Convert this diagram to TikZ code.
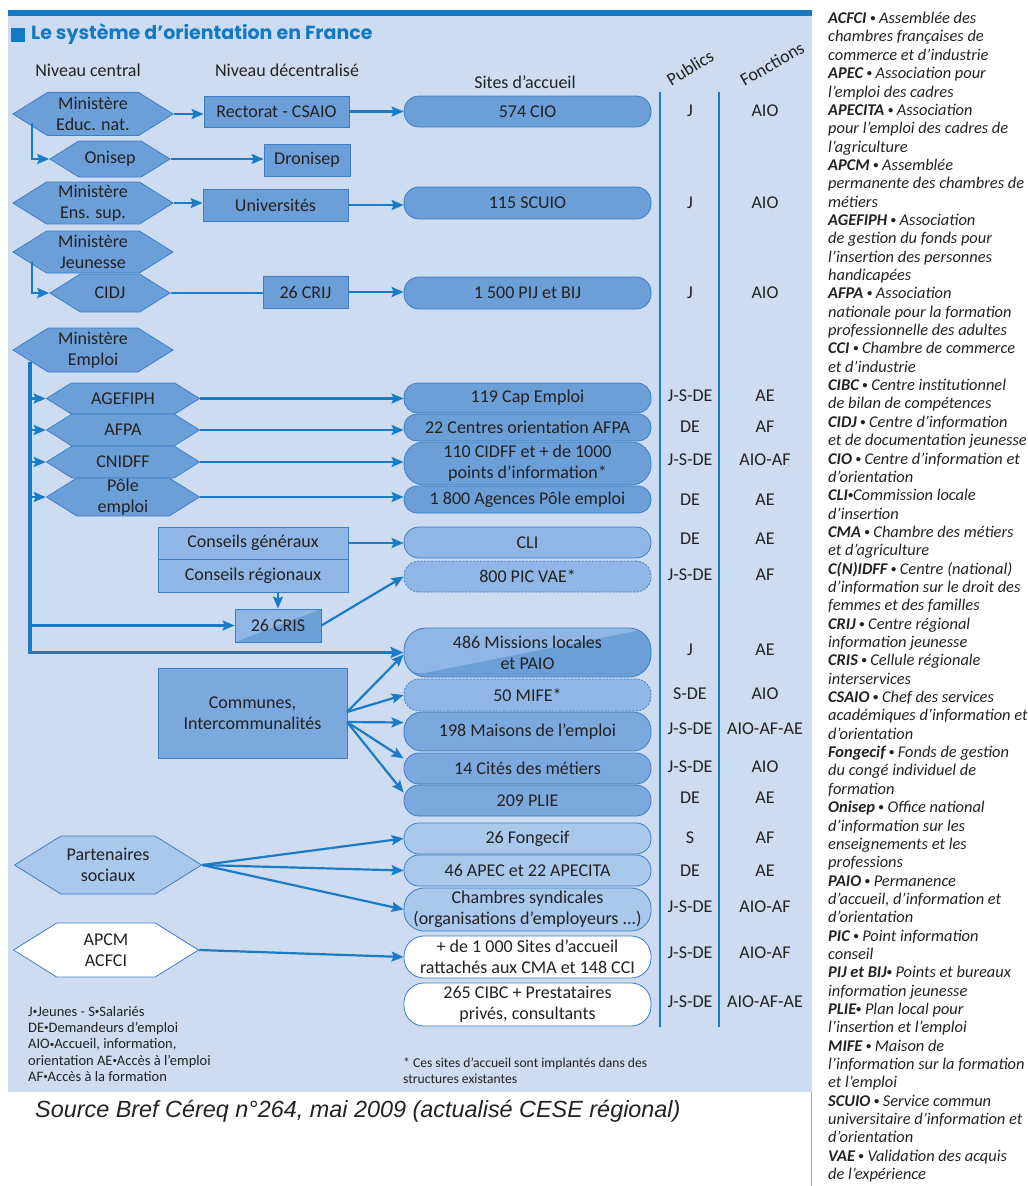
\documentclass[tikz,border=0pt]{standalone}
\usepackage{fontspec}
\setmainfont{Carlito}
\newfontfamily\srcfont{Liberation Sans}
\newfontfamily\titlefont{Poppins}
\usetikzlibrary{shapes.symbols,arrows.meta,calc}
\definecolor{bgc}{HTML}{CDDCF1}
\definecolor{barc}{HTML}{1479C4}
\definecolor{medc}{HTML}{6C9FD8}
\definecolor{medlc}{HTML}{7BA9DD}
\definecolor{lightc}{HTML}{8FB6E4}
\definecolor{paleC}{HTML}{AAC7EC}
\definecolor{bordc}{HTML}{3D7DC6}
\definecolor{arrc}{HTML}{1A7CC6}
\definecolor{txtc}{HTML}{222222}
\newcommand{\bul}{\raisebox{0.12em}{\scalebox{0.62}{•}}}
\begin{document}
\begin{tikzpicture}[x=1pt,y=-1pt,
 every node/.style={text=txtc},
 mfont/.style={font=\fontsize{18}{21}\selectfont},
 hex/.style={signal, signal to=west and east, signal pointer angle=64, draw=bordc, fill=medc, line width=0.8pt, inner xsep=2pt, inner ysep=0pt, align=center, mfont},
 boxn/.style={rectangle, draw=bordc, fill=medc, line width=0.8pt, inner sep=1pt, align=center, mfont},
 site/.style={rectangle, rounded corners=15pt, draw=bordc, fill=medc, line width=0.8pt, minimum width=247pt, inner sep=1pt, align=center, mfont},
 dashedbox/.style={dash pattern=on 2pt off 1.5pt},
 pubt/.style={mfont, inner sep=0pt},
 arr/.style={draw=arrc, line width=2.2pt, -{Stealth[length=12pt,width=10pt,inset=2pt]}},
 conn/.style={draw=arrc, line width=2.2pt},
 trunk/.style={draw=arrc, line width=3.2pt, -{Stealth[length=13pt,width=11pt,inset=2pt]}},
 vline/.style={draw=arrc, line width=1.8pt},
 split/.style={path picture={\fill[lightc] (path picture bounding box.south west) -- (path picture bounding box.north east) -- (path picture bounding box.north west) -- cycle;}}
]
\useasboundingbox (0,0) rectangle (1028,1186);
% panel
\fill[bgc] (8,10) rectangle (812,1092);
\fill[barc] (8,10) rectangle (812,16);
\draw[gray!70, line width=0.8pt] (811,1092) -- (811,1186);
% title
\node[fill=barc, minimum size=14pt, inner sep=0pt] (sq) at (17.5,35) {};
\node[anchor=west, inner sep=0pt, text=barc, font=\titlefont\bfseries\fontsize{19}{22}\selectfont] (title) at (31,34) {Le système d’orientation en France};
% headers
\node[mfont] (h1) at (88,70) {Niveau central};
\node[mfont] (h2) at (287,70) {Niveau décentralisé};
\node[mfont] (h3) at (525,82) {Sites d’accueil};
\node[mfont, rotate=31] (h4) at (690,68) {Publics};
\node[mfont, rotate=30] (h5) at (772,64) {Fonctions};
% column lines
\coordinate (v1t) at (660,92); \coordinate (v1b) at (660,1027);
\coordinate (v2t) at (719,92); \coordinate (v2b) at (719,1027);
\draw[vline] (v1t) -- (v1b);
\draw[vline] (v2t) -- (v2b);
% central level hexagons
\node[hex, minimum width=160pt, minimum height=43pt] (edu) at (93,114) {Ministère\\Educ. nat.};
\node[hex, minimum width=120pt, minimum height=36pt] (onisep) at (110,159) {Onisep};
\node[hex, minimum width=160pt, minimum height=42pt] (enssup) at (93,203) {Ministère\\Ens. sup.};
\node[hex, minimum width=160pt, minimum height=42pt] (jeun) at (93,252) {Ministère\\Jeunesse};
\node[hex, minimum width=120pt, minimum height=38pt] (cidj) at (110,293) {CIDJ};
\node[hex, minimum width=160pt, minimum height=44pt] (emploi) at (93,350) {Ministère\\Emploi};
\node[hex, minimum width=153pt, minimum height=31pt] (agefiph) at (123,398.5) {AGEFIPH};
\node[hex, minimum width=153pt, minimum height=32pt] (afpa) at (123,430) {AFPA};
\node[hex, minimum width=153pt, minimum height=32pt] (cnidff) at (123,462) {CNIDFF};
\node[hex, minimum width=153pt, minimum height=38pt] (pole) at (123,497) {Pôle\\emploi};
\node[hex, fill=paleC, minimum width=187pt, minimum height=58pt] (partners) at (108,865) {Partenaires\\sociaux};
\node[hex, fill=white, minimum width=185pt, minimum height=54pt] (apcm) at (106,950) {APCM\\ACFCI};
% decentralised boxes
\node[boxn, minimum width=145pt, minimum height=31pt] (rect) at (276.5,111.5) {Rectorat - CSAIO};
\node[boxn, minimum width=86pt, minimum height=32pt] (dron) at (307,160) {Dronisep};
\node[boxn, minimum width=145pt, minimum height=32pt] (univ) at (275.5,205) {Universités};
\node[boxn, minimum width=85pt, minimum height=32pt] (crij) at (305.5,292) {26 CRIJ};
\node[boxn, fill=lightc, minimum width=190pt, minimum height=32pt] (cg) at (253,543) {Conseils généraux};
\node[boxn, fill=lightc, minimum width=190pt, minimum height=33pt] (cr) at (253,575.5) {Conseils régionaux};
\node[boxn, split, minimum width=86pt, minimum height=33pt] (cris) at (278,625.5) {26 CRIS};
\node[boxn, fill=medlc, minimum width=189pt, minimum height=90pt] (communes) at (252.5,713) {Communes,\\Intercommunalités};
% sites
\node[site, minimum height=31pt] (cio) at (527.5,111.5) {574 CIO};
\node[site, minimum height=32pt] (scuio) at (527.5,203) {115 SCUIO};
\node[site, minimum height=32pt] (pij) at (527.5,293) {1 500 PIJ et BIJ};
\node[site, minimum height=30pt, rounded corners=14pt] (cap) at (527.5,398) {119 Cap Emploi};
\node[site, minimum height=27pt, rounded corners=13pt] (cafpa) at (527.5,427.5) {22 Centres orientation AFPA};
\node[site, minimum height=43pt, rounded corners=20pt] (cidff) at (527.5,463.5) {110 CIDFF et + de 1000\\points d’information*};
\node[site, minimum height=27pt, rounded corners=13pt] (agences) at (527.5,499.5) {1 800 Agences Pôle emploi};
\node[site, fill=lightc, minimum height=31pt] (cli) at (527.5,542.5) {CLI};
\node[site, fill=lightc, dashedbox, minimum height=31pt] (pic) at (527.5,576.5) {800 PIC VAE*};
\node[site, split, minimum height=49pt, rounded corners=22pt] (missions) at (527.5,652.5) {486 Missions locales\\et PAIO};
\node[site, fill=lightc, dashedbox, minimum height=32pt] (mife) at (527.5,695) {50 MIFE*};
\node[site, fill=medlc, minimum height=39pt, rounded corners=18pt] (maisons) at (527.5,731.5) {198 Maisons de l’emploi};
\node[site, fill=medlc, minimum height=31pt] (cites) at (527.5,768.5) {14 Cités des métiers};
\node[site, fill=medlc, minimum height=31pt] (plie) at (527.5,800.5) {209 PLIE};
\node[site, fill=paleC, minimum height=31pt] (fongecif) at (527.5,838.5) {26 Fongecif};
\node[site, fill=paleC, minimum height=31pt] (apec) at (527.5,870.5) {46 APEC et 22 APECITA};
\node[site, fill=paleC, minimum height=43pt, rounded corners=20pt] (chambres) at (527.5,909.5) {Chambres syndicales\\(organisations d’employeurs ...)};
\node[site, fill=white, minimum height=42pt, rounded corners=20pt] (plus) at (527.5,957) {+ de 1 000 Sites d’accueil\\rattachés aux CMA et 148 CCI};
\node[site, fill=white, minimum height=43pt, rounded corners=20pt] (cibc) at (527.5,1004.5) {265 CIBC + Prestataires\\privés, consultants};
% publics / fonctions
\foreach \yy/\pp/\ff in {111/J/AIO, 203/J/AIO, 293/J/AIO, 396/J-S-DE/AE, 427/DE/AF, 460/J-S-DE/AIO-AF, 500/DE/AE, 539/DE/AE, 575/J-S-DE/AF, 650/J/AE, 694/S-DE/AIO, 729/J-S-DE/AIO-AF-AE, 767/J-S-DE/AIO, 798/DE/AE, 838/S/AF, 871/DE/AE, 907/J-S-DE/AIO-AF, 953/J-S-DE/AIO-AF, 1002/J-S-DE/AIO-AF-AE}{
  \node[pubt] (pub\yy) at (690,\yy) {\pp};
  \node[pubt] (fon\yy) at (765,\yy) {\ff};
}
% connectors
\draw[arr] (edu.east) -- (edu.east -| rect.west);
\draw[arr] (rect.east) -- (rect.east -| cio.west);
\coordinate (b1) at (32,123);
\draw[arr] (b1) |- (onisep.west);
\draw[arr] (onisep.east) -- (onisep.east -| dron.west);
\draw[arr] (enssup.east) -- (enssup.east -| univ.west);
\draw[arr] (univ.east) -- (univ.east -| scuio.west);
\coordinate (b2) at (32,262);
\draw[arr] (b2) |- (cidj.west);
\draw[conn] (cidj.east) -- (cidj.east -| crij.west);
\draw[arr] (crij.east) -- (crij.east -| pij.west);
\coordinate (t0) at (30,362);
\draw[trunk] (t0) |- (missions.west);
\foreach \n in {agefiph,afpa,cnidff,pole} \draw[arr] (t0 |- \n.west) -- (\n.west);
\draw[arr] (t0 |- cris.west) -- (cris.west);
\draw[arr] (agefiph.east) -- (agefiph.east -| cap.west);
\draw[arr] (afpa.east) -- (afpa.east -| cafpa.west);
\draw[arr] (cnidff.east) -- (cnidff.east -| cidff.west);
\draw[arr] (pole.east) -- (pole.east -| agences.west);
\draw[arr] (cg.east) -- (cg.east -| cli.west);
\draw[arr] (cris.north |- cr.south) -- (cris.north);
\draw[arr] (cris.east) -- (pic.west);
\coordinate (c1) at (347,712);
\coordinate (c2) at (347,722);
\draw[arr] (c1) -- ([yshift=-2pt]missions.west);
\draw[arr] (c1) -- (mife.west);
\draw[arr] (c2) -- ([yshift=9pt]maisons.west);
\draw[arr] (c2) -- ([yshift=10pt]cites.west);
\draw[arr] (c2) -- ([yshift=8pt]plie.west);
\draw[arr] (partners.east) -- (fongecif.west);
\draw[arr] (partners.east) -- (apec.west);
\draw[arr] (partners.east) -- (chambres.west);
\draw[arr] (apcm.east) -- (plus.west);
% bottom notes
\node[anchor=north west, inner sep=0pt, align=left, font=\fontsize{14.5}{16.3}\selectfont] (keys) at (28,1006) {J\bul Jeunes - S\bul Salariés\\DE\bul Demandeurs d’emploi\\AIO\bul Accueil, information,\\orientation AE\bul Accès à l’emploi\\AF\bul Accès à la formation};
\node[anchor=north west, inner sep=0pt, align=left, font=\fontsize{13.6}{15.5}\selectfont] (foot) at (403,1058) {* Ces sites d’accueil sont implantés dans des\\structures existantes};
\node[anchor=west, inner sep=0pt, font=\srcfont\itshape\fontsize{23.4}{26}\selectfont] (src) at (35,1111) {Source Bref Céreq n°264, mai 2009 (actualisé CESE régional)};
% glossary
\node[anchor=north west, inner sep=0pt, align=left, font=\itshape\fontsize{16.4}{18.35}\selectfont] (gloss) at (828,12) {%
\textbf{ACFCI \bul} Assemblée des\\
chambres françaises de\\
commerce et d’industrie\\
\textbf{APEC \bul} Association pour\\
l’emploi des cadres\\
\textbf{APECITA \bul} Association\\
pour l’emploi des cadres de\\
l’agriculture\\
\textbf{APCM \bul} Assemblée\\
permanente des chambres de\\
métiers\\
\textbf{AGEFIPH \bul} Association\\
de gestion du fonds pour\\
l’insertion des personnes\\
handicapées\\
\textbf{AFPA \bul} Association\\
nationale pour la formation\\
professionnelle des adultes\\
\textbf{CCI \bul} Chambre de commerce\\
et d’industrie\\
\textbf{CIBC \bul} Centre institutionnel\\
de bilan de compétences\\
\textbf{CIDJ \bul} Centre d’information\\
et de documentation jeunesse\\
\textbf{CIO \bul} Centre d’information et\\
d’orientation\\
\textbf{CLI\bul}Commission locale\\
d’insertion\\
\textbf{CMA \bul} Chambre des métiers\\
et d’agriculture\\
\textbf{C(N)IDFF \bul} Centre (national)\\
d’information sur le droit des\\
femmes et des familles\\
\textbf{CRIJ \bul} Centre régional\\
information jeunesse\\
\textbf{CRIS \bul} Cellule régionale\\
interservices\\
\textbf{CSAIO \bul} Chef des services\\
académiques d’information et\\
d’orientation\\
\textbf{Fongecif \bul} Fonds de gestion\\
du congé individuel de\\
formation\\
\textbf{Onisep \bul} Office national\\
d’information sur les\\
enseignements et les\\
professions\\
\textbf{PAIO \bul} Permanence\\
d’accueil, d’information et\\
d’orientation\\
\textbf{PIC \bul} Point information\\
conseil\\
\textbf{PIJ et BIJ\bul} Points et bureaux\\
information jeunesse\\
\textbf{PLIE\bul} Plan local pour\\
l’insertion et l’emploi\\
\textbf{MIFE \bul} Maison de\\
l’information sur la formation\\
et l’emploi\\
\textbf{SCUIO \bul} Service commun\\
universitaire d’information et\\
d’orientation\\
\textbf{VAE \bul} Validation des acquis\\
de l’expérience};
\end{tikzpicture}
\end{document}
